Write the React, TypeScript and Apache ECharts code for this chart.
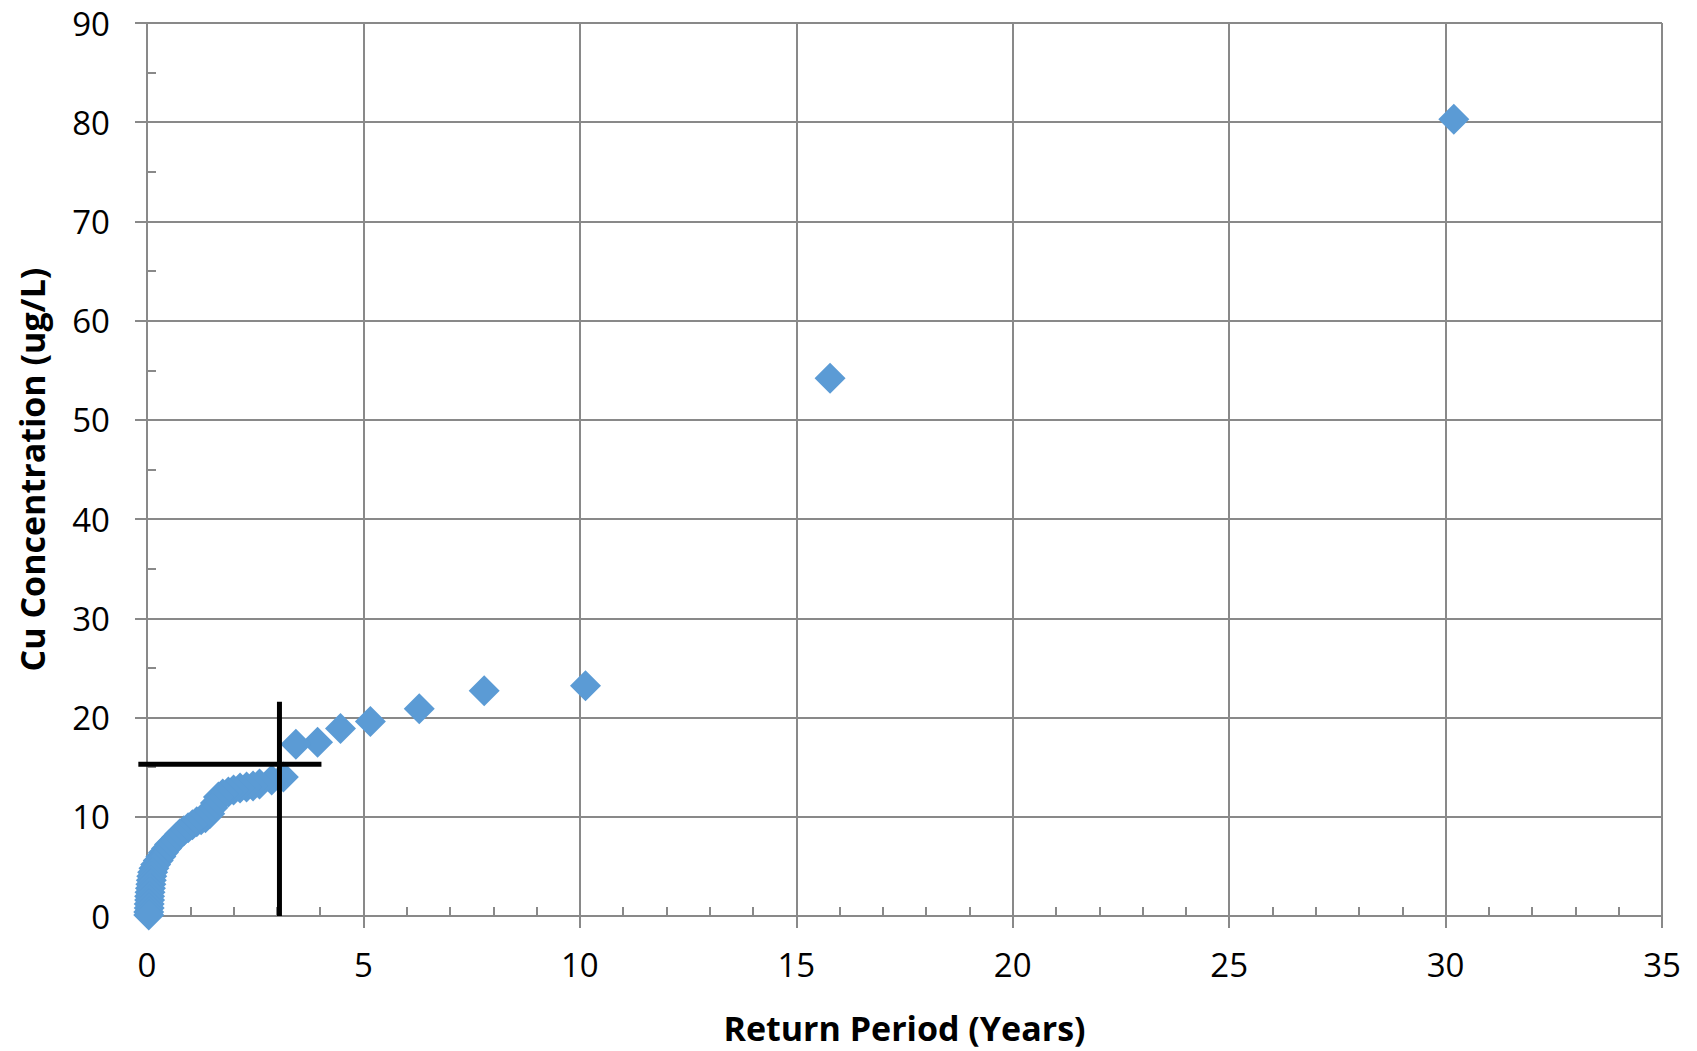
import React, { useEffect, useRef } from "react";
import * as echarts from "echarts";

// Return period (years) and Cu concentration (ug/L)
const returnPeriod: number[] = [
  30.19, 15.78, 10.13, 7.79, 6.29, 5.16, 4.47, 3.94, 3.44, 3.15,
  2.88, 2.6, 2.45, 2.3, 2.15, 2.0, 1.88, 1.75, 1.65, 1.58,
  1.52, 1.45, 1.35, 1.25, 1.15, 1.05, 0.95, 0.85, 0.76, 0.68,
  0.6, 0.52, 0.45, 0.38, 0.32, 0.26, 0.2, 0.16, 0.13, 0.11,
  0.1, 0.09, 0.08, 0.07, 0.06, 0.06, 0.05, 0.05, 0.04, 0.04,
];
const cuConcentration: number[] = [
  80.3, 54.2, 23.2, 22.7, 20.9, 19.6, 18.9, 17.5, 17.3, 14.0,
  13.7, 13.3, 13.1, 13.0, 12.9, 12.7, 12.5, 12.3, 12.0, 11.4,
  10.9, 10.3, 9.9, 9.7, 9.5, 9.2, 8.9, 8.6, 8.3, 7.9,
  7.5, 7.2, 6.8, 6.4, 6.0, 5.6, 5.2, 4.8, 4.4, 4.0,
  3.6, 3.2, 2.8, 2.4, 2.0, 1.6, 1.2, 0.8, 0.4, 0.1,
];

// Reference cross-hair segments: [x1, y1, x2, y2]
const crossHair: number[][] = [
  [-0.2, 15.3, 4.03, 15.3],
  [3.06, 21.6, 3.06, 0],
];

const xTicks = { min: 0, max: 35, interval: 5 };
const yTicks = { min: 0, max: 90, interval: 10 };

const xTitle = "Return Period (Years)";
const yTitle = "Cu Concentration (ug/L)";

export default function App() {
  const ref = useRef<HTMLDivElement>(null);
  useEffect(() => {
    if (!ref.current) return;
    const chart = echarts.init(ref.current, undefined, { renderer: "svg" });
    const gridColor = "#898989";
    const font = "'Open Sans', 'DejaVu Sans', sans-serif";
    const axisCommon = {
      axisLine: { show: true, lineStyle: { color: gridColor, width: 2 } },
      axisTick: { show: true, length: 12, lineStyle: { color: gridColor, width: 2 } },
      minorTick: { show: true, length: -9, lineStyle: { color: gridColor, width: 2 } },
      splitLine: { show: true, lineStyle: { color: gridColor, width: 2 } },
      minorSplitLine: { show: false },
      nameLocation: "middle" as const,
      nameTextStyle: { fontFamily: font, fontSize: 34, fontWeight: "bold", color: "#000" },
    };
    const scatterData = returnPeriod.map((x, i) => [x, cuConcentration[i]]);
    chart.setOption({
      animation: false,
      backgroundColor: "#ffffff",
      grid: { left: 147, right: 35, top: 23, bottom: 135, containLabel: false },
      xAxis: {
        type: "value",
        ...xTicks,
        ...axisCommon,
        minorTick: { ...axisCommon.minorTick, splitNumber: 5 },
        axisLabel: { margin: 32, fontFamily: font, fontSize: 33, color: "#000" },
        name: xTitle,
        nameGap: 95,
      },
      yAxis: {
        type: "value",
        ...yTicks,
        ...axisCommon,
        minorTick: { ...axisCommon.minorTick, splitNumber: 2 },
        axisLabel: { margin: 37, fontFamily: font, fontSize: 33, color: "#000" },
        name: yTitle,
        nameRotate: 90,
        nameGap: 98,
      },
      series: [
        {
          type: "scatter",
          data: scatterData,
          symbol: "diamond",
          symbolSize: 31,
          itemStyle: { color: "#5b9bd5", opacity: 1 },
          clip: false,
          z: 2,
        },
        {
          type: "custom",
          data: crossHair,
          encode: { x: [0, 2], y: [1, 3] },
          clip: false,
          z: 5,
          renderItem: (params: any, api: any) => {
            const p1 = api.coord([api.value(0), api.value(1)]);
            const p2 = api.coord([api.value(2), api.value(3)]);
            return {
              type: "line",
              shape: { x1: p1[0], y1: p1[1], x2: p2[0], y2: p2[1] },
              style: { stroke: "#000000", lineWidth: 5 },
            };
          },
        },
      ],
    });
    return () => chart.dispose();
  }, []);
  return (
    <div
      ref={ref}
      style={{ position: "fixed", left: 0, top: 0, width: 1697, height: 1051, background: "#fff" }}
    />
  );
}
